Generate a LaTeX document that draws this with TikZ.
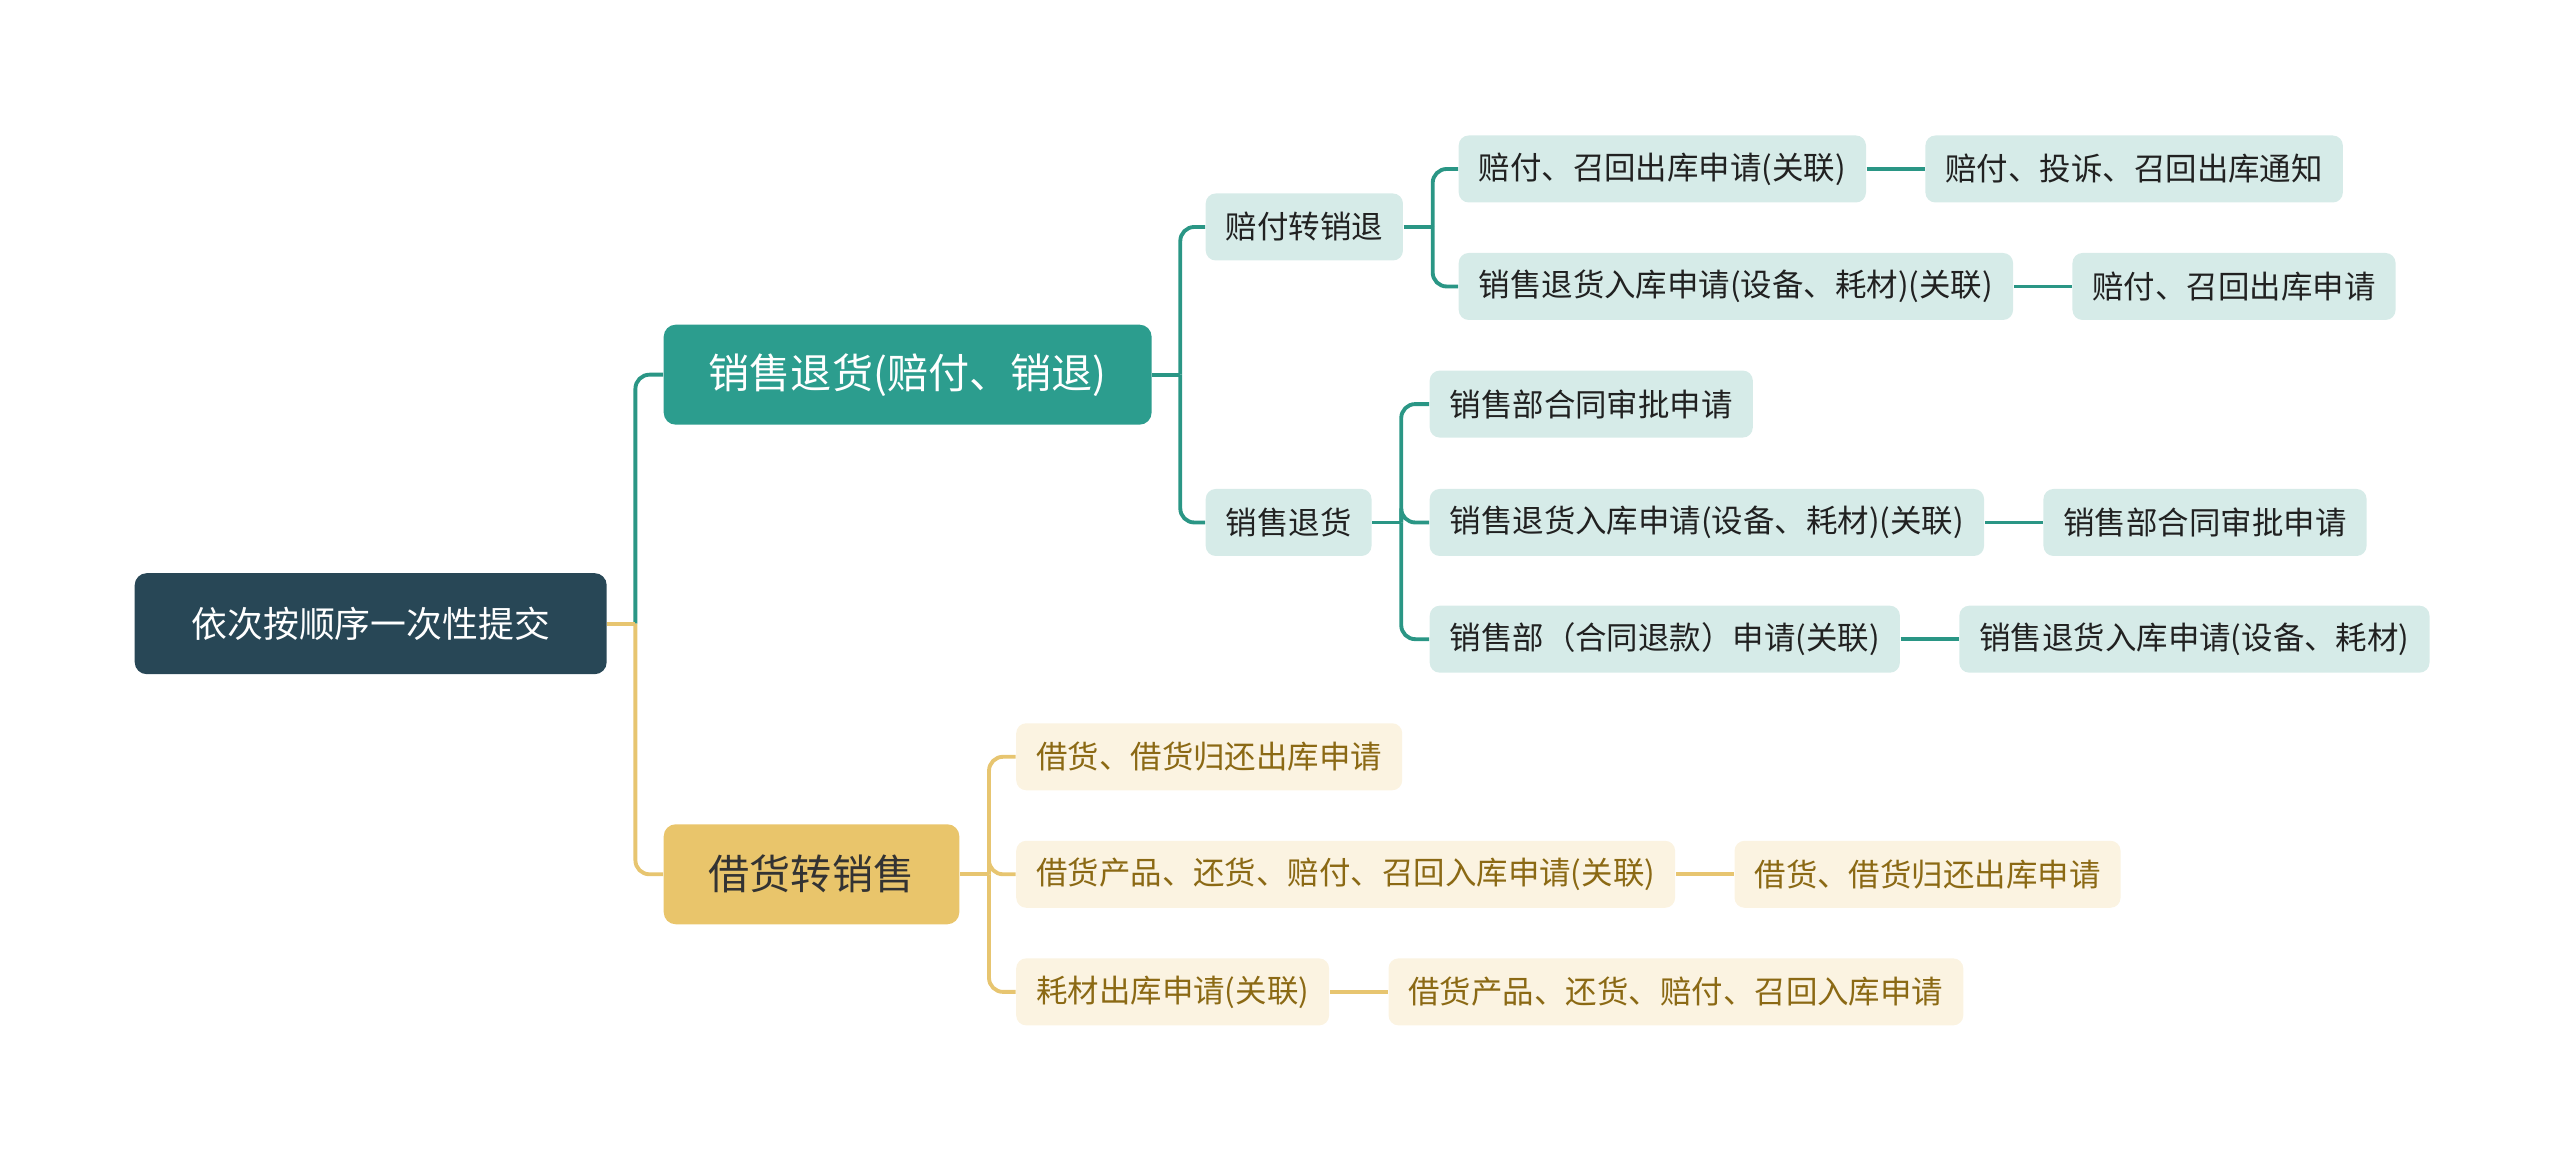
\documentclass[tikz,border=0pt]{standalone}
\usepackage{fontspec}
\setmainfont{Noto Sans CJK SC}
\usepackage{xcolor}
\usepackage{tikz}
\usetikzlibrary{positioning}
\definecolor{rootblue}{RGB}{40,71,86}
\definecolor{tealmain}{RGB}{44,157,142}
\definecolor{teallight}{RGB}{214,235,232}
\definecolor{tealline}{RGB}{42,150,133}
\definecolor{goldmain}{RGB}{233,197,107}
\definecolor{goldlight}{RGB}{251,243,225}
\definecolor{goldline}{RGB}{231,197,112}
\definecolor{goldtext}{RGB}{139,105,20}

\begin{document}
\begin{tikzpicture}[
    rootbox/.style={rounded corners=0.12cm, fill=rootblue, text=white, anchor=west, minimum width=4.72cm, minimum height=1.01cm, font=\fontsize{10.2pt}{12pt}\selectfont},
    topbox/.style={rounded corners=0.12cm, anchor=west, inner xsep=0.45cm, minimum height=1.0cm, font=\fontsize{11.7pt}{14pt}\selectfont},
    leafbox/.style={rounded corners=0.1cm, anchor=west, inner xsep=0.2cm, minimum height=0.67cm, font=\fontsize{8.95pt}{10pt}\selectfont},
    tealleaf/.style={leafbox, fill=teallight, text=black!87},
    goldleaf/.style={leafbox, fill=goldlight, text=goldtext},
    tealwire/.style={draw=tealline, line width=1.1pt, rounded corners=0.14cm},
    goldwire/.style={draw=goldline, line width=1.1pt, rounded corners=0.14cm}
  ]
    \useasboundingbox (0,0) rectangle (25.6,11.61);
    \node[rootbox] (root) at (1.34,5.373) {依次按顺序一次性提交};
    \node[topbox, fill=tealmain, text=white] (sell) at (6.63,7.863) {销售退货(赔付、销退)};
    \node[topbox, fill=goldmain, text=black!80] (borrow) at (6.63,2.867) {借货转销售};

    \node[tealleaf] (comp) at (12.05,9.34) {赔付转销退};
    \node[tealleaf] (ret) at (12.05,6.385) {销售退货};

    \node[tealleaf] (comp1) at (14.58,9.92) {赔付、召回出库申请(关联)};
    \node[tealleaf] (comp2) at (14.58,8.745) {销售退货入库申请(设备、耗材)(关联)};
    \node[tealleaf, right=0.58cm of comp1] (comp1n) {赔付、投诉、召回出库通知};
    \node[tealleaf, right=0.58cm of comp2] (comp2n) {赔付、召回出库申请};

    \node[tealleaf] (ret1) at (14.29,7.569) {销售部合同审批申请};
    \node[tealleaf] (ret2) at (14.29,6.385) {销售退货入库申请(设备、耗材)(关联)};
    \node[tealleaf] (ret3) at (14.29,5.218) {销售部（合同退款）申请(关联)};
    \node[tealleaf, right=0.58cm of ret2] (ret2n) {销售部合同审批申请};
    \node[tealleaf, right=0.58cm of ret3] (ret3n) {销售退货入库申请(设备、耗材)};

    \node[goldleaf] (bor1) at (10.155,4.042) {借货、借货归还出库申请};
    \node[goldleaf] (bor2) at (10.155,2.867) {借货产品、还货、赔付、召回入库申请(关联)};
    \node[goldleaf] (bor3) at (10.155,1.691) {耗材出库申请(关联)};
    \node[goldleaf, right=0.58cm of bor2] (bor2n) {借货、借货归还出库申请};
    \node[goldleaf, right=0.58cm of bor3] (bor3n) {借货产品、还货、赔付、召回入库申请};

    % junctions
    \coordinate (rootj) at ([xshift=0.28cm]root.east);
    \coordinate (sellj) at ([xshift=0.28cm]sell.east);
    \coordinate (compj) at ([xshift=0.29cm]comp.east);
    \coordinate (retj) at ([xshift=0.29cm]ret.east);
    \coordinate (borj) at ([xshift=0.29cm]borrow.east);

    % branches from the root
    \draw[tealwire] (rootj) |- (sell.west);
    \draw[goldwire] (rootj) |- (borrow.west);
    \draw[goldwire] (root.east) -- (rootj);

    % sales return branch
    \draw[tealwire] (sell.east) -- (sellj);
    \foreach \kid in {comp, ret}
      \draw[tealwire] (sellj) |- (\kid.west);
    \draw[tealwire] (comp.east) -- (compj);
    \foreach \kid in {comp1, comp2}
      \draw[tealwire] (compj) |- (\kid.west);
    \draw[tealwire] (ret.east) -- (retj);
    \foreach \kid in {ret1, ret2, ret3}
      \draw[tealwire] (retj) |- (\kid.west);
    \draw[tealwire] (comp1) -- (comp1n);
    \draw[tealwire] (comp2) -- (comp2n);
    \draw[tealwire] (ret2) -- (ret2n);
    \draw[tealwire] (ret3) -- (ret3n);

    % borrow branch
    \draw[goldwire] (borrow.east) -- (borj);
    \foreach \kid in {bor1, bor2, bor3}
      \draw[goldwire] (borj) |- (\kid.west);
    \draw[goldwire] (bor2) -- (bor2n);
    \draw[goldwire] (bor3) -- (bor3n);
  \end{tikzpicture}
\end{document}
